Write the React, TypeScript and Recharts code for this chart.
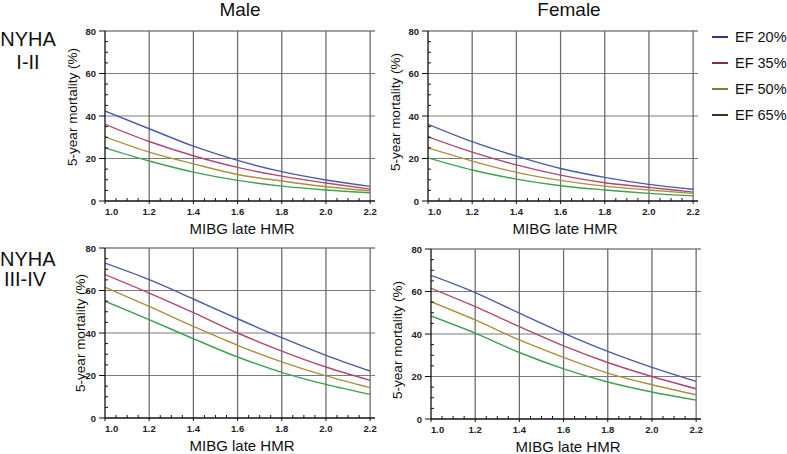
import React from "react";
import { LineChart, Line, XAxis, YAxis, ReferenceLine } from "recharts";

const FONT = "'Liberation Sans', Arial, Helvetica, sans-serif";

const hmr = [1.0, 1.2, 1.4, 1.6, 1.8, 2.0, 2.2];
const xTicks = [1.0, 1.2, 1.4, 1.6, 1.8, 2.0, 2.2];
const yTicks = [0, 20, 40, 60, 80];
const seriesKeys = ["ef20", "ef35", "ef50", "ef65"];
const seriesNames = ["EF 20%", "EF 35%", "EF 50%", "EF 65%"];
const seriesColors = ["#4b5aa6", "#b0476f", "#a8903c", "#3fa052"];
const legendColors = ["#2c3a78", "#8a2a4a", "#8a7a2a", "#2e3a22"];

// Male, NYHA I-II
const maleMildEF20 = [42.3, 34.0, 25.8, 19.1, 13.8, 9.9, 6.9];
const maleMildEF35 = [36.1, 28.0, 21.3, 15.8, 11.7, 8.5, 5.6];
const maleMildEF50 = [30.2, 23.0, 17.5, 12.5, 9.4, 6.7, 4.8];
const maleMildEF65 = [25.0, 18.8, 13.6, 9.7, 7.0, 5.2, 3.9];

// Female, NYHA I-II
const femaleMildEF20 = [36.1, 27.9, 21.1, 15.3, 11.1, 7.8, 5.5];
const femaleMildEF35 = [30.2, 23.0, 17.0, 12.2, 8.6, 6.4, 4.2];
const femaleMildEF50 = [25.0, 18.8, 13.5, 9.7, 7.0, 5.2, 3.6];
const femaleMildEF65 = [20.3, 14.6, 10.3, 7.2, 5.2, 3.6, 2.4];

// Male, NYHA III-IV
const maleSevereEF20 = [72.9, 65.1, 56.0, 46.7, 37.8, 29.5, 22.1];
const maleSevereEF35 = [67.5, 58.8, 49.6, 40.0, 31.5, 24.0, 17.7];
const maleSevereEF50 = [61.5, 52.5, 43.1, 34.2, 26.4, 19.8, 14.3];
const maleSevereEF65 = [55.0, 46.3, 37.3, 28.7, 21.5, 15.8, 11.1];

// Female, NYHA III-IV
const femaleSevereEF20 = [67.6, 59.5, 49.8, 40.4, 31.8, 24.3, 17.7];
const femaleSevereEF35 = [61.5, 52.9, 43.5, 34.4, 26.6, 20.0, 14.2];
const femaleSevereEF50 = [55.2, 46.6, 37.2, 29.0, 21.6, 16.1, 11.4];
const femaleSevereEF65 = [48.5, 40.4, 31.3, 23.6, 17.4, 12.7, 8.9];

const xAllTicks = Array.from({ length: 25 }, (_, i) => +(1 + i * 0.05).toFixed(2));
const yAllTicks = Array.from({ length: 17 }, (_, i) => i * 5);

function buildRows(a: number[], b: number[], c: number[], d: number[]) {
  return hmr.map((x, i) => ({ x, ef20: a[i], ef35: b[i], ef50: c[i], ef65: d[i] }));
}

const XTick = (props: any) => {
  const { x, y, payload } = props;
  const v = payload.value;
  const major = xTicks.some((t) => Math.abs(t - v) < 1e-6);
  return (
    <g>
      <line x1={x} x2={x} y1={y} y2={major ? y + 3 : y - 3} stroke="#111" strokeWidth={1} />
      {major && (
        <text
          x={x}
          y={y + 14}
          textAnchor={Math.abs(v - 1) < 1e-6 ? "start" : "middle"}
          fontSize={9.5}
          fontWeight="bold"
          fontFamily={FONT}
          fill="#222"
        >
          {v.toFixed(1)}
        </text>
      )}
    </g>
  );
};

const YTick = (props: any) => {
  const { x, y, payload } = props;
  const v = payload.value;
  const major = yTicks.includes(v);
  return (
    <g>
      <line x1={x} x2={major ? x - 6 : x + 3} y1={y} y2={y} stroke="#111" strokeWidth={1} />
      {major && (
        <text
          x={x - 9}
          y={y + 3.5}
          textAnchor="end"
          fontSize={9.5}
          fontWeight="bold"
          fontFamily={FONT}
          fill="#222"
        >
          {v}
        </text>
      )}
    </g>
  );
};

type PanelProps = {
  rows: any[];
  left: number;
  top: number;
  labelDx: number;
  labelDy: number;
};

function Panel({ rows, left, top, labelDx, labelDy }: PanelProps) {
  return (
    <div style={{ position: "absolute", left, top }}>
      <LineChart width={345} height={220} data={rows} margin={{ top: 10, right: 5, bottom: 0, left: 0 }}>
        {[20, 40, 60].map((v) => (
          <ReferenceLine key={"h" + v} y={v} stroke="#7a7a7a" strokeWidth={1.2} />
        ))}
        <ReferenceLine y={80} stroke="#a0a0a0" strokeWidth={2} />
        {xTicks.slice(1).map((v) => (
          <ReferenceLine key={"v" + v} x={v} stroke="#6e6e6e" strokeWidth={1.3} />
        ))}
        <XAxis
          dataKey="x"
          type="number"
          domain={[1, 2.222]}
          ticks={xAllTicks}
          interval={0}
          tickSize={0}
          tickMargin={0}
          tick={<XTick />}
          axisLine={{ stroke: "#111", strokeWidth: 1.3 }}
          height={40}
          allowDataOverflow
          label={(p: any) => {
            const vb = p.viewBox || {};
            return (
              <text
                x={vb.x + vb.width / 2 + 2}
                y={vb.y + 33}
                textAnchor="middle"
                fontSize={15}
                fontFamily={FONT}
                fill="#111"
              >
                MIBG late HMR
              </text>
            );
          }}
        />
        <YAxis
          type="number"
          domain={[0, 80]}
          ticks={yAllTicks}
          interval={0}
          tickSize={0}
          tickMargin={0}
          tick={<YTick />}
          axisLine={{ stroke: "#111", strokeWidth: 1.3 }}
          width={70}
          label={(p: any) => {
            const vb = p.viewBox || {};
            const cx = vb.x + vb.width + labelDx;
            const cy = vb.y + vb.height / 2 + labelDy;
            return (
              <text
                x={cx}
                y={cy}
                transform={`rotate(-90, ${cx}, ${cy})`}
                textAnchor="middle"
                dominantBaseline="central"
                fontSize={13.5}
                fontFamily={FONT}
                fill="#111"
              >
                5-year mortality (%)
              </text>
            );
          }}
        />
        {seriesKeys.map((k, i) => (
          <Line
            key={k}
            dataKey={k}
            name={seriesNames[i]}
            type="monotone"
            stroke={seriesColors[i]}
            strokeWidth={1.4}
            dot={false}
            isAnimationActive={false}
          />
        ))}
      </LineChart>
    </div>
  );
}

const textStyle: React.CSSProperties = {
  position: "absolute",
  fontFamily: FONT,
  color: "#111",
  whiteSpace: "nowrap",
  lineHeight: 1,
};

export default function App() {
  return (
    <div style={{ position: "absolute", left: 0, top: 0, width: 787, height: 454, background: "#fff", overflow: "hidden" }}>
      <div style={{ ...textStyle, left: 190, top: 0, width: 100, textAlign: "center", fontSize: 19 }}>Male</div>
      <div style={{ ...textStyle, left: 519, top: 0, width: 100, textAlign: "center", fontSize: 19 }}>Female</div>
      <div style={{ ...textStyle, left: 0, top: 29, width: 56, textAlign: "center", fontSize: 20 }}>NYHA</div>
      <div style={{ ...textStyle, left: 0, top: 52, width: 56, textAlign: "center", fontSize: 20 }}>I-II</div>
      <div style={{ ...textStyle, left: 0, top: 249, width: 54, textAlign: "center", fontSize: 20 }}>NYHA</div>
      <div style={{ ...textStyle, left: 0, top: 269, width: 50, textAlign: "center", fontSize: 20 }}>III-IV</div>

      <Panel rows={buildRows(maleMildEF20, maleMildEF35, maleMildEF50, maleMildEF65)} left={35} top={21} labelDx={-33} labelDy={-9} />
      <Panel rows={buildRows(femaleMildEF20, femaleMildEF35, femaleMildEF50, femaleMildEF65)} left={358} top={21} labelDx={-33} labelDy={-4} />
      <Panel rows={buildRows(maleSevereEF20, maleSevereEF35, maleSevereEF50, maleSevereEF65)} left={35} top={238} labelDx={-25} labelDy={0} />
      <Panel rows={buildRows(femaleSevereEF20, femaleSevereEF35, femaleSevereEF50, femaleSevereEF65)} left={361} top={239} labelDx={-34} labelDy={6} />

      {seriesNames.map((name, i) => (
        <div key={name} style={{ position: "absolute", left: 712, top: 37 + i * 26 - 8, height: 16, display: "flex", alignItems: "center" }}>
          <div style={{ width: 16, height: 1.3, background: legendColors[i] }} />
          <div style={{ marginLeft: 7, fontFamily: FONT, fontSize: 14.5, color: "#111", lineHeight: 1 }}>{name}</div>
        </div>
      ))}
    </div>
  );
}
